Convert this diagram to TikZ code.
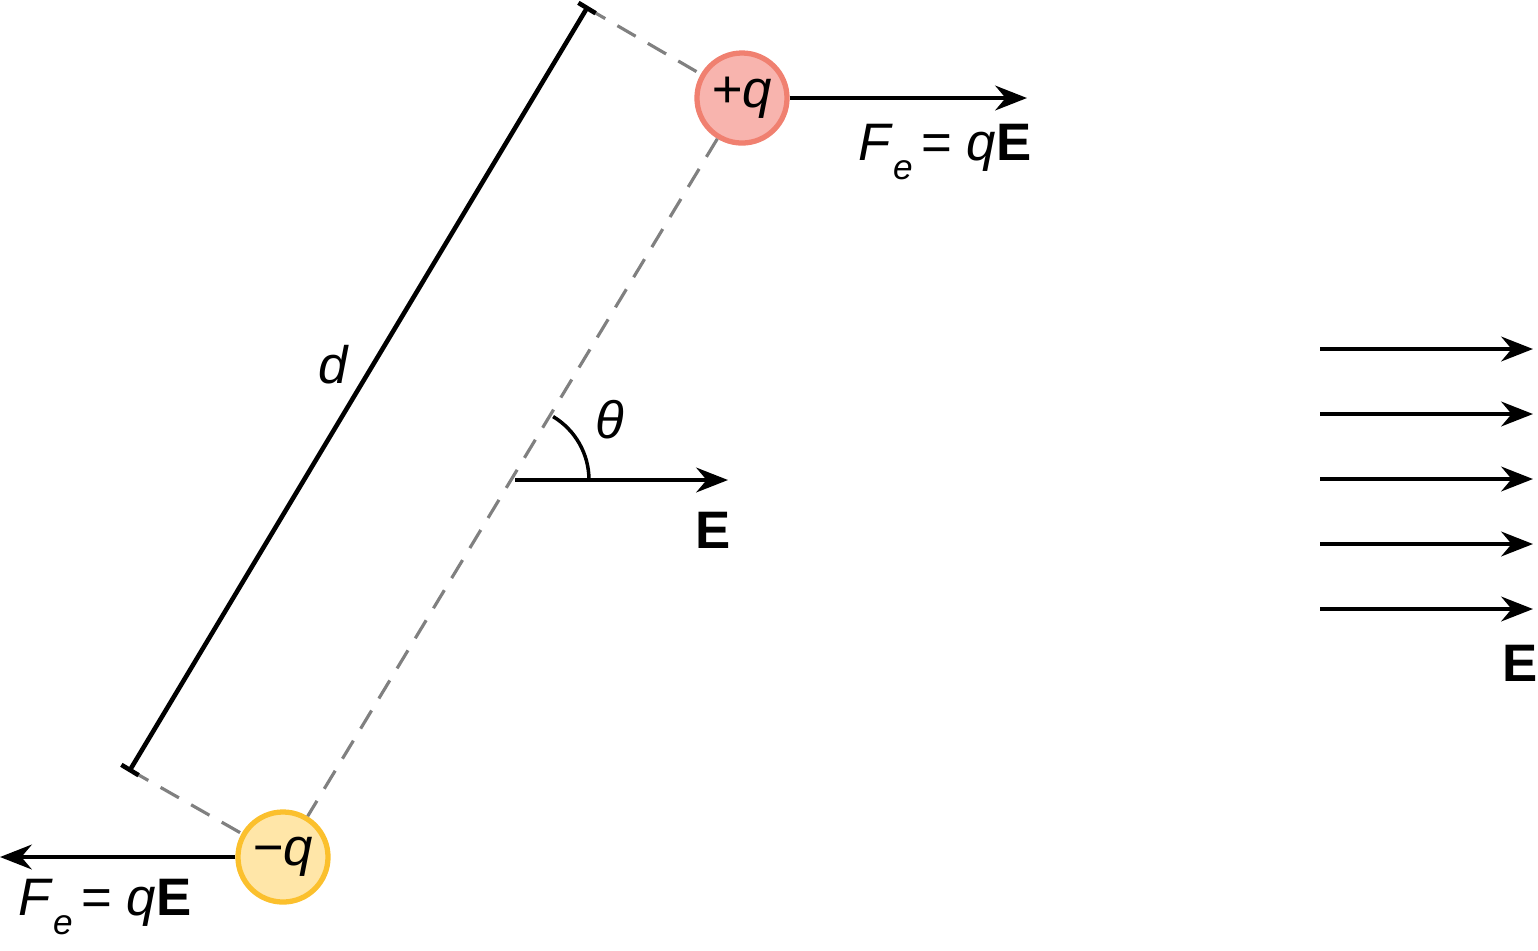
\documentclass[tikz,border=0pt]{standalone}
\usepackage{fontspec}
\setmainfont{Liberation Sans}
\usetikzlibrary{arrows.meta,calc}
\definecolor{pfill}{HTML}{F8B4AE}\definecolor{pdraw}{HTML}{F08070}
\definecolor{nfill}{HTML}{FFE6A8}\definecolor{ndraw}{HTML}{FBC02D}
\newcommand{\fsub}{\textit{F}\raisebox{-0.35em}{\fontsize{10}{12}\selectfont\textit{e}}\,= \textit{q}\textbf{E}}
\begin{document}
\begin{tikzpicture}[x=0.01cm,y=-0.01cm,
  arr/.style={line width=1.3pt,-{Stealth[length=9pt,width=7pt]}},
  dsh/.style={draw=gray,dashed,line width=0.9pt,dash pattern=on 6pt off 4pt},
  charge/.style={circle,minimum size=0.9cm,line width=1.5pt,inner sep=0pt,font=\fontsize{15}{17}\selectfont\itshape},
  lbl/.style={font=\fontsize{15}{17}\selectfont}]
\useasboundingbox (0,0) rectangle (1538,950);
\node[charge,fill=pfill,draw=pdraw] (p) at (742,98) {+q};
\node[charge,fill=nfill,draw=ndraw] (n) at (283,857) {−q};
\coordinate (pe) at (1027,98);
\coordinate (ne) at (0,857);
\draw[arr] (p.east) -- (pe);
\draw[arr] (n.west) -- (ne);
\node[lbl] (f1) at (945,152) {\fsub};
\node[lbl] (f2) at (105,907) {\fsub};
\coordinate (a) at (587,8);
\coordinate (b) at (130,770);
\coordinate (c) at (515,480);
\draw[dsh] (p) -- (n);
\draw[dsh] (a) -- (p);
\draw[dsh] (b) -- (n);
\draw[line width=1.3pt] (a) -- (b);
\draw[line width=1.3pt] ($(a)+(-8.6,-5.2)$) -- ($(a)+(8.6,5.2)$);
\draw[line width=1.3pt] ($(b)+(-8.6,-5.2)$) -- ($(b)+(8.6,5.2)$);
\node[lbl,font=\fontsize{15}{17}\selectfont\itshape] (d) at (333,365) {d};
\coordinate (ce) at (728,480);
\draw[arr] (c) -- (ce);
\node[lbl] (e1) at (713,530) {\textbf{E}};
\draw[line width=1pt] (589,480) arc[start angle=0,end angle=-59,radius=74];
\node[lbl,font=\fontsize{15}{17}\selectfont\itshape] (th) at (610,420) {θ};
\foreach \y [count=\i] in {349,414,479,544,609}{
  \coordinate (s\i) at (1320,\y); \coordinate (t\i) at (1533,\y);
  \draw[arr] (s\i) -- (t\i);}
\node[lbl] (e2) at (1520,663) {\textbf{E}};
\end{tikzpicture}
\end{document}
